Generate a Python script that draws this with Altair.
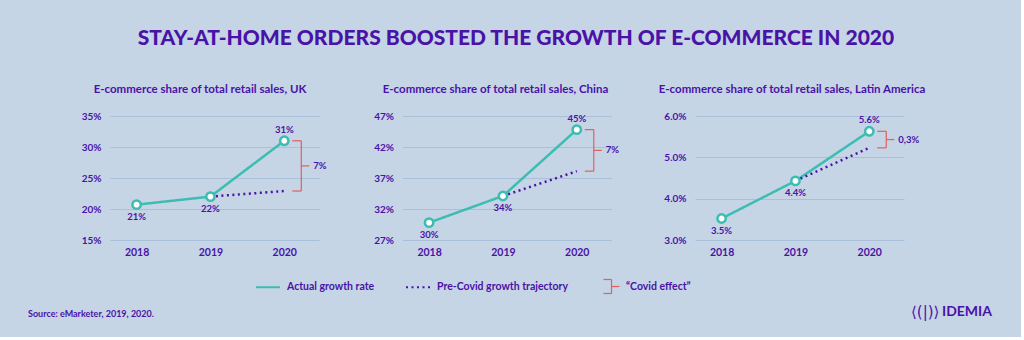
import altair as alt
import pandas as pd

# ---------------- data ----------------
YEARS = [2018, 2019, 2020]
SERIES = ["Actual growth rate", "Pre-Covid growth trajectory"]

UK_ACTUAL = [20.7, 22.0, 31.0]
UK_TREND_2020 = 22.9
UK_LABELS = ["21%", "22%", "31%"]
UK_EFFECT = "7%"
UK_TICKS = [15, 20, 25, 30, 35]

CN_ACTUAL = [29.8, 34.1, 44.8]
CN_TREND_2020 = 38.1
CN_LABELS = ["30%", "34%", "45%"]
CN_EFFECT = "7%"
CN_TICKS = [27, 32, 37, 42, 47]

LA_ACTUAL = [3.52, 4.43, 5.63]
LA_TREND_2020 = 5.23
LA_LABELS = ["3.5%", "4.4%", "5.6%"]
LA_EFFECT = "0,3%"
LA_TICKS = [3, 4, 5, 6]

TITLES = [
    "E-commerce share of total retail sales, UK",
    "E-commerce share of total retail sales, China",
    "E-commerce share of total retail sales, Latin America",
]
MAIN_TITLE = "STAY-AT-HOME ORDERS BOOSTED THE GROWTH OF E-COMMERCE IN 2020"
SOURCE = "Source: eMarketer, 2019, 2020."
EFFECT_LEGEND = "\u201cCovid effect\u201d"

# ---------------- style ----------------
BG = "#c5d5e6"
GRID = "#a9c0da"
PURPLE = "#4a12a6"
TEAL = "#3cbdb1"
RED = "#e0605d"
FONT = "Lato"
W, H = 209, 124
SPACING = 83.5


def panel(actual, trend, labels, effect, ticks, title, label_expr, title_dx, extra=None):
    lines_df = pd.DataFrame({
        "year": YEARS + [YEARS[1], YEARS[2]],
        "value": actual + [actual[1], trend],
        "series": [SERIES[0]] * 3 + [SERIES[1]] * 2,
    })
    pts_df = pd.DataFrame({"year": YEARS, "value": actual, "label": labels})
    eff_df = pd.DataFrame({"year": [YEARS[2]], "top": [actual[2]],
                           "bottom": [trend], "label": [effect]})

    xs = alt.Scale(domain=[2017.64, 2020.47], nice=False, zero=False)
    ys = alt.Scale(domain=[ticks[0], ticks[-1]], nice=False, zero=False)
    x = alt.X("year:Q", scale=xs, axis=alt.Axis(
        values=YEARS, format="d", title=None, grid=False, domain=False,
        ticks=False, labelPadding=7, labelFontSize=10.5, labelOverlap=False,
        tickCount=10))
    y = alt.Y("value:Q", scale=ys, axis=alt.Axis(
        values=ticks, labelExpr=label_expr, title=None, grid=True,
        domain=False, ticks=False, labelPadding=9, labelFontSize=10,
        labelOverlap=False, tickCount=10))

    lines = alt.Chart(lines_df).mark_line(strokeWidth=2.5, strokeCap="butt").encode(
        x=x, y=y,
        color=alt.Color("series:N", scale=alt.Scale(domain=SERIES, range=[TEAL, PURPLE]),
                        legend=alt.Legend(title=None)),
        strokeDash=alt.StrokeDash("series:N", scale=alt.Scale(domain=SERIES, range=[[1, 0], [2, 3.5]]),
                                  legend=alt.Legend(title=None)),
    )
    pts = alt.Chart(pts_df).mark_point(shape="circle", filled=False, fill="white",
                                       fillOpacity=1, size=70, strokeWidth=2.5,
                                       color=TEAL, opacity=1).encode(x="year:Q", y="value:Q")
    lab_below = alt.Chart(pts_df).transform_filter("datum.year < 2020").mark_text(
        dy=12, fontSize=9.5, fontWeight="bold", color=PURPLE, font=FONT).encode(
        x="year:Q", y="value:Q", text="label:N")
    lab_above = alt.Chart(pts_df).transform_filter("datum.year == 2020").mark_text(
        dy=-11, fontSize=9.5, fontWeight="bold", color=PURPLE, font=FONT).encode(
        x="year:Q", y="value:Q", text="label:N")

    vbar = alt.Chart(eff_df).mark_rule(xOffset=17, color=RED, strokeWidth=1.2).encode(
        x="year:Q", y="top:Q", y2="bottom:Q")
    ttop = alt.Chart(eff_df).mark_rule(xOffset=8, x2Offset=17, color=RED, strokeWidth=1.2).encode(
        x="year:Q", x2="year:Q", y="top:Q")
    tbot = alt.Chart(eff_df).mark_rule(xOffset=8, x2Offset=17, color=RED, strokeWidth=1.2).encode(
        x="year:Q", x2="year:Q", y="bottom:Q")
    mid = alt.Chart(eff_df).transform_calculate(mid="(datum.top + datum.bottom) / 2")
    tmid = mid.mark_rule(xOffset=17, x2Offset=25, color=RED, strokeWidth=1.2).encode(
        x="year:Q", x2="year:Q", y="mid:Q")
    tlab = mid.mark_text(align="left", dx=29, fontSize=9.5, fontWeight="bold",
                         color=PURPLE, font=FONT).encode(x="year:Q", y="mid:Q", text="label:N")

    layers = [lines, pts, lab_below, lab_above, vbar, ttop, tbot, tmid, tlab]
    if extra:
        layers += extra
    return alt.layer(*layers).properties(
        width=W, height=H,
        title=alt.TitleParams(title, anchor="middle", frame="group", offset=7, dx=title_dx,
                              baseline="alphabetic", fontSize=11.5, font=FONT,
                              fontWeight="bold", color=PURPLE),
    )


one = pd.DataFrame({"k": [0]})
source = alt.Chart(one).mark_text(align="left", baseline="middle", fontSize=9,
                                  fontWeight="bold", color=PURPLE, font=FONT).encode(
    x=alt.value(-82), y=alt.value(198), text=alt.value(SOURCE))

# legend bracket ("Covid effect") drawn in panel 2 coordinates
LX = 402.5
lg_v = alt.Chart(one).mark_rule(color=RED, strokeWidth=1.2).encode(
    x=alt.value(611.5 - LX), y=alt.value(163.5), y2=alt.value(177.5))
lg_t = alt.Chart(one).mark_rule(color=RED, strokeWidth=1.2).encode(
    x=alt.value(603.5 - LX), x2=alt.value(611.5 - LX), y=alt.value(163.5))
lg_b = alt.Chart(one).mark_rule(color=RED, strokeWidth=1.2).encode(
    x=alt.value(603.5 - LX), x2=alt.value(611.5 - LX), y=alt.value(177.5))
lg_m = alt.Chart(one).mark_rule(color=RED, strokeWidth=1.2).encode(
    x=alt.value(611.5 - LX), x2=alt.value(619.5 - LX), y=alt.value(170.5))
lg_txt = alt.Chart(one).mark_text(align="left", baseline="middle", fontSize=10.5,
                                  fontWeight="bold", color=PURPLE, font=FONT).encode(
    x=alt.value(626 - LX), y=alt.value(170.5), text=alt.value(EFFECT_LEGEND))

logo_icon = alt.Chart(one).mark_text(align="left", baseline="middle", fontSize=15,
                                     color=PURPLE, font="DejaVu Sans").encode(
    x=alt.value(216), y=alt.value(195.5), text=alt.value("\u27e8(|)\u27e9"))
logo_txt = alt.Chart(one).mark_text(align="left", baseline="middle", fontSize=14,
                                    fontWeight="bold", color=PURPLE, font=FONT).encode(
    x=alt.value(247), y=alt.value(195.5), text=alt.value("IDEMIA"))

p1 = panel(UK_ACTUAL, UK_TREND_2020, UK_LABELS, UK_EFFECT, UK_TICKS, TITLES[0],
           "datum.value + '%'", -14.5, [source])
p2 = panel(CN_ACTUAL, CN_TREND_2020, CN_LABELS, CN_EFFECT, CN_TICKS, TITLES[1],
           "datum.value + '%'", -11.5, [lg_v, lg_t, lg_b, lg_m, lg_txt])
p3 = panel(LA_ACTUAL, LA_TREND_2020, LA_LABELS, LA_EFFECT, LA_TICKS, TITLES[2],
           "format(datum.value, '.1f') + '%'", -7.5, [logo_icon, logo_txt])

chart = alt.hconcat(p1, p2, p3, spacing=SPACING, bounds="flush").properties(
    title=alt.TitleParams(MAIN_TITLE, anchor="middle", fontSize=21, font=FONT,
                          fontWeight=900, color=PURPLE, offset=35, dx=6),
    padding={"left": 28, "top": 27, "right": 29, "bottom": 17},
    background=BG,
).configure_view(stroke=None).configure_axis(
    labelColor=PURPLE, labelFont=FONT, labelFontWeight="bold", gridColor=GRID,
    gridWidth=1,
).configure_legend(
    orient="none", legendX=145, legendY=158, direction="horizontal",
    symbolType="stroke", symbolSize=576, symbolStrokeWidth=2,
    labelFont=FONT, labelFontSize=10.5, labelFontWeight="bold", labelColor=PURPLE,
    labelOffset=6, columnPadding=27,
)

chart.save("out.html", embed_options={"renderer": "svg", "actions": False})
